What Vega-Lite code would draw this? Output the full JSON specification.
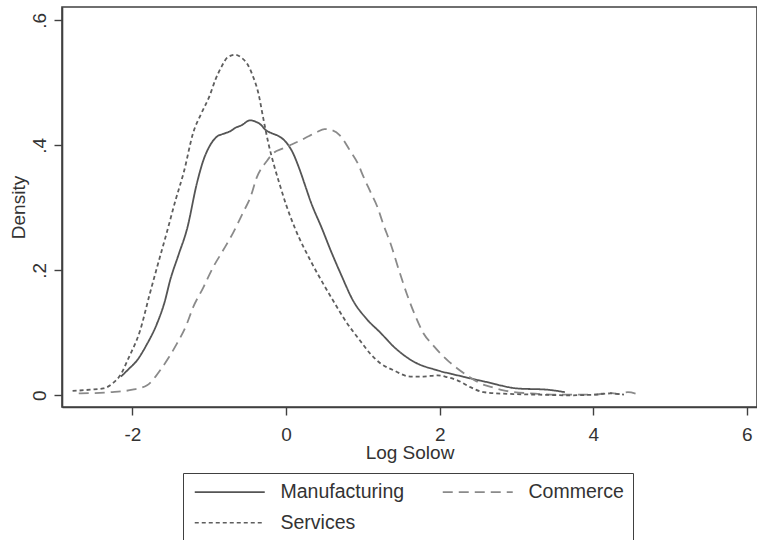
{
  "$schema": "https://vega.github.io/schema/vega-lite/v6.json",
  "width": 695,
  "height": 400,
  "autosize": {"type": "none"},
  "padding": {"left": 62, "top": 7, "right": 0, "bottom": 133},
  "background": "white",
  "config": {
    "view": {"stroke": "#404040", "strokeWidth": 1.6},
    "font": "Liberation Sans",
    "axis": {
      "domainColor": "#404040",
      "domainWidth": 1.6,
      "tickColor": "#404040",
      "tickWidth": 1.4,
      "tickSize": 8,
      "grid": false,
      "labelFont": "Liberation Sans",
      "labelFontSize": 19,
      "labelColor": "#333333",
      "titleFont": "Liberation Sans",
      "titleFontSize": 19,
      "titleFontWeight": "normal",
      "titleColor": "#333333"
    },
    "legend": {
      "title": null,
      "orient": "none",
      "legendX": 121,
      "legendY": 466,
      "columns": 2,
      "direction": "horizontal",
      "symbolType": "M-1,0H9",
      "symbolSize": 196,
      "symbolStrokeWidth": 1.6,
      "labelFont": "Liberation Sans",
      "labelFontSize": 19.5,
      "labelColor": "#333333",
      "labelOffset": 69,
      "padding": 9,
      "rowPadding": 10,
      "columnPadding": 34,
      "strokeColor": "#404040",
      "fillColor": "white"
    }
  },
  "data": {
    "values": [
      {"sector": "Manufacturing", "x": -2.15, "y": 0.030},
      {"sector": "Manufacturing", "x": -2.05, "y": 0.042},
      {"sector": "Manufacturing", "x": -1.94, "y": 0.056},
      {"sector": "Manufacturing", "x": -1.82, "y": 0.080},
      {"sector": "Manufacturing", "x": -1.68, "y": 0.115},
      {"sector": "Manufacturing", "x": -1.58, "y": 0.150},
      {"sector": "Manufacturing", "x": -1.51, "y": 0.184},
      {"sector": "Manufacturing", "x": -1.40, "y": 0.225},
      {"sector": "Manufacturing", "x": -1.29, "y": 0.266},
      {"sector": "Manufacturing", "x": -1.16, "y": 0.340},
      {"sector": "Manufacturing", "x": -1.08, "y": 0.375},
      {"sector": "Manufacturing", "x": -0.99, "y": 0.400},
      {"sector": "Manufacturing", "x": -0.90, "y": 0.414},
      {"sector": "Manufacturing", "x": -0.80, "y": 0.419},
      {"sector": "Manufacturing", "x": -0.72, "y": 0.423},
      {"sector": "Manufacturing", "x": -0.66, "y": 0.428},
      {"sector": "Manufacturing", "x": -0.58, "y": 0.432},
      {"sector": "Manufacturing", "x": -0.47, "y": 0.440},
      {"sector": "Manufacturing", "x": -0.40, "y": 0.438},
      {"sector": "Manufacturing", "x": -0.34, "y": 0.434},
      {"sector": "Manufacturing", "x": -0.26, "y": 0.424},
      {"sector": "Manufacturing", "x": -0.18, "y": 0.419},
      {"sector": "Manufacturing", "x": -0.10, "y": 0.415},
      {"sector": "Manufacturing", "x": 0.00, "y": 0.405},
      {"sector": "Manufacturing", "x": 0.08, "y": 0.390},
      {"sector": "Manufacturing", "x": 0.18, "y": 0.360},
      {"sector": "Manufacturing", "x": 0.25, "y": 0.335},
      {"sector": "Manufacturing", "x": 0.32, "y": 0.310},
      {"sector": "Manufacturing", "x": 0.47, "y": 0.266},
      {"sector": "Manufacturing", "x": 0.58, "y": 0.232},
      {"sector": "Manufacturing", "x": 0.72, "y": 0.192},
      {"sector": "Manufacturing", "x": 0.87, "y": 0.152},
      {"sector": "Manufacturing", "x": 1.05, "y": 0.122},
      {"sector": "Manufacturing", "x": 1.23, "y": 0.100},
      {"sector": "Manufacturing", "x": 1.40, "y": 0.078},
      {"sector": "Manufacturing", "x": 1.66, "y": 0.054},
      {"sector": "Manufacturing", "x": 1.97, "y": 0.040},
      {"sector": "Manufacturing", "x": 2.23, "y": 0.032},
      {"sector": "Manufacturing", "x": 2.62, "y": 0.021},
      {"sector": "Manufacturing", "x": 3.01, "y": 0.011},
      {"sector": "Manufacturing", "x": 3.40, "y": 0.009},
      {"sector": "Manufacturing", "x": 3.63, "y": 0.005},

      {"sector": "Commerce", "x": -2.70, "y": 0.003},
      {"sector": "Commerce", "x": -2.29, "y": 0.005},
      {"sector": "Commerce", "x": -2.00, "y": 0.009},
      {"sector": "Commerce", "x": -1.81, "y": 0.016},
      {"sector": "Commerce", "x": -1.70, "y": 0.030},
      {"sector": "Commerce", "x": -1.64, "y": 0.040},
      {"sector": "Commerce", "x": -1.52, "y": 0.062},
      {"sector": "Commerce", "x": -1.42, "y": 0.083},
      {"sector": "Commerce", "x": -1.30, "y": 0.112},
      {"sector": "Commerce", "x": -1.21, "y": 0.141},
      {"sector": "Commerce", "x": -1.08, "y": 0.172},
      {"sector": "Commerce", "x": -0.95, "y": 0.205},
      {"sector": "Commerce", "x": -0.82, "y": 0.232},
      {"sector": "Commerce", "x": -0.69, "y": 0.260},
      {"sector": "Commerce", "x": -0.55, "y": 0.295},
      {"sector": "Commerce", "x": -0.47, "y": 0.315},
      {"sector": "Commerce", "x": -0.38, "y": 0.349},
      {"sector": "Commerce", "x": -0.25, "y": 0.375},
      {"sector": "Commerce", "x": -0.17, "y": 0.387},
      {"sector": "Commerce", "x": -0.04, "y": 0.395},
      {"sector": "Commerce", "x": 0.05, "y": 0.400},
      {"sector": "Commerce", "x": 0.19, "y": 0.408},
      {"sector": "Commerce", "x": 0.30, "y": 0.415},
      {"sector": "Commerce", "x": 0.40, "y": 0.421},
      {"sector": "Commerce", "x": 0.50, "y": 0.426},
      {"sector": "Commerce", "x": 0.60, "y": 0.424},
      {"sector": "Commerce", "x": 0.70, "y": 0.416},
      {"sector": "Commerce", "x": 0.83, "y": 0.392},
      {"sector": "Commerce", "x": 0.93, "y": 0.372},
      {"sector": "Commerce", "x": 1.01, "y": 0.349},
      {"sector": "Commerce", "x": 1.10, "y": 0.325},
      {"sector": "Commerce", "x": 1.19, "y": 0.301},
      {"sector": "Commerce", "x": 1.27, "y": 0.272},
      {"sector": "Commerce", "x": 1.36, "y": 0.243},
      {"sector": "Commerce", "x": 1.47, "y": 0.200},
      {"sector": "Commerce", "x": 1.57, "y": 0.163},
      {"sector": "Commerce", "x": 1.69, "y": 0.125},
      {"sector": "Commerce", "x": 1.79, "y": 0.099},
      {"sector": "Commerce", "x": 1.90, "y": 0.082},
      {"sector": "Commerce", "x": 2.01, "y": 0.067},
      {"sector": "Commerce", "x": 2.12, "y": 0.054},
      {"sector": "Commerce", "x": 2.23, "y": 0.043},
      {"sector": "Commerce", "x": 2.38, "y": 0.030},
      {"sector": "Commerce", "x": 2.53, "y": 0.019},
      {"sector": "Commerce", "x": 2.68, "y": 0.013},
      {"sector": "Commerce", "x": 2.83, "y": 0.008},
      {"sector": "Commerce", "x": 3.18, "y": 0.003},
      {"sector": "Commerce", "x": 3.60, "y": 0.001},
      {"sector": "Commerce", "x": 4.00, "y": 0.001},
      {"sector": "Commerce", "x": 4.22, "y": 0.004},
      {"sector": "Commerce", "x": 4.32, "y": 0.002},
      {"sector": "Commerce", "x": 4.45, "y": 0.005},
      {"sector": "Commerce", "x": 4.57, "y": 0.002},

      {"sector": "Services", "x": -2.78, "y": 0.007},
      {"sector": "Services", "x": -2.55, "y": 0.009},
      {"sector": "Services", "x": -2.38, "y": 0.011},
      {"sector": "Services", "x": -2.25, "y": 0.020},
      {"sector": "Services", "x": -2.16, "y": 0.032},
      {"sector": "Services", "x": -2.05, "y": 0.060},
      {"sector": "Services", "x": -1.90, "y": 0.104},
      {"sector": "Services", "x": -1.78, "y": 0.160},
      {"sector": "Services", "x": -1.68, "y": 0.205},
      {"sector": "Services", "x": -1.55, "y": 0.262},
      {"sector": "Services", "x": -1.44, "y": 0.312},
      {"sector": "Services", "x": -1.33, "y": 0.358},
      {"sector": "Services", "x": -1.21, "y": 0.420},
      {"sector": "Services", "x": -1.10, "y": 0.452},
      {"sector": "Services", "x": -1.00, "y": 0.478},
      {"sector": "Services", "x": -0.92, "y": 0.505},
      {"sector": "Services", "x": -0.84, "y": 0.526},
      {"sector": "Services", "x": -0.76, "y": 0.541},
      {"sector": "Services", "x": -0.66, "y": 0.545},
      {"sector": "Services", "x": -0.58, "y": 0.540},
      {"sector": "Services", "x": -0.51, "y": 0.531},
      {"sector": "Services", "x": -0.43, "y": 0.510},
      {"sector": "Services", "x": -0.36, "y": 0.483},
      {"sector": "Services", "x": -0.30, "y": 0.445},
      {"sector": "Services", "x": -0.23, "y": 0.403},
      {"sector": "Services", "x": -0.15, "y": 0.365},
      {"sector": "Services", "x": -0.08, "y": 0.336},
      {"sector": "Services", "x": 0.00, "y": 0.305},
      {"sector": "Services", "x": 0.12, "y": 0.266},
      {"sector": "Services", "x": 0.32, "y": 0.215},
      {"sector": "Services", "x": 0.50, "y": 0.175},
      {"sector": "Services", "x": 0.61, "y": 0.152},
      {"sector": "Services", "x": 0.78, "y": 0.118},
      {"sector": "Services", "x": 0.96, "y": 0.088},
      {"sector": "Services", "x": 1.10, "y": 0.066},
      {"sector": "Services", "x": 1.23, "y": 0.051},
      {"sector": "Services", "x": 1.40, "y": 0.040},
      {"sector": "Services", "x": 1.62, "y": 0.030},
      {"sector": "Services", "x": 1.79, "y": 0.030},
      {"sector": "Services", "x": 1.97, "y": 0.032},
      {"sector": "Services", "x": 2.10, "y": 0.029},
      {"sector": "Services", "x": 2.23, "y": 0.024},
      {"sector": "Services", "x": 2.40, "y": 0.013},
      {"sector": "Services", "x": 2.57, "y": 0.005},
      {"sector": "Services", "x": 2.96, "y": 0.002},
      {"sector": "Services", "x": 3.30, "y": 0.001},
      {"sector": "Services", "x": 3.66, "y": 0.000},
      {"sector": "Services", "x": 4.00, "y": 0.001},
      {"sector": "Services", "x": 4.22, "y": 0.003},
      {"sector": "Services", "x": 4.40, "y": 0.001}
    ]
  },
  "mark": {"type": "line", "interpolate": "monotone", "strokeWidth": 1.8, "clip": true},
  "encoding": {
    "x": {
      "field": "x",
      "type": "quantitative",
      "scale": {"domain": [-2.918, 6.132], "nice": false, "zero": false},
      "axis": {
        "title": "Log Solow",
        "values": [-2, 0, 2, 4, 6],
        "labelExpr": "datum.value < 0 ? '-' + abs(datum.value) : '' + datum.value",
        "labelBaseline": "alphabetic",
        "labelPadding": 25,
        "titleBaseline": "alphabetic",
        "titleY": 51
      }
    },
    "y": {
      "field": "y",
      "type": "quantitative",
      "scale": {"domain": [-0.0187, 0.6213], "nice": false, "zero": false},
      "axis": {
        "title": "Density",
        "values": [0, 0.2, 0.4, 0.6],
        "labelExpr": "datum.value == 0 ? '0' : replace(format(datum.value, '.1f'), '0.', '.')",
        "labelAngle": -90,
        "labelAlign": "center",
        "labelBaseline": "alphabetic",
        "labelPadding": 9,
        "titleBaseline": "alphabetic",
        "titleX": -38
      }
    },
    "color": {
      "field": "sector",
      "type": "nominal",
      "scale": {
        "domain": ["Manufacturing", "Commerce", "Services"],
        "range": ["#555555", "#8a8a8a", "#5e5e5e"]
      }
    },
    "strokeDash": {
      "field": "sector",
      "type": "nominal",
      "scale": {
        "domain": ["Manufacturing", "Commerce", "Services"],
        "range": [[1, 0], [10, 6], [4, 3]]
      }
    }
  }
}
